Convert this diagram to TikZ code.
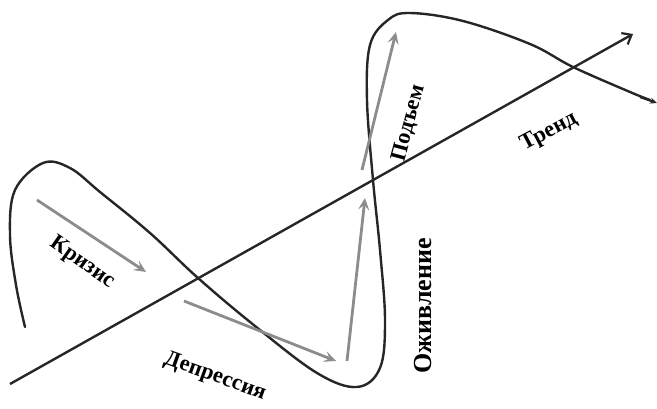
\documentclass[tikz,border=0pt]{standalone}
\usepackage{fontspec}
\setmainfont{Liberation Serif}
\usetikzlibrary{arrows.meta}
\begin{document}
\begin{tikzpicture}[x=1pt,y=-1pt,
  wave/.style={line width=2.4pt,color=black!85,line cap=round},
  trendline/.style={line width=2.4pt,color=black!85,-{Straight Barb[length=8pt,width=13pt,line width=2.2pt]}},
  phase/.style={line width=2.8pt,color=black!45,-{Stealth[length=12pt,width=11pt,inset=5pt]}},
  lab/.style={font=\bfseries\fontsize{22.5}{24}\selectfont,inner sep=0pt},
  biglab/.style={font=\bfseries\fontsize{26}{28}\selectfont,inner sep=0pt}]
\useasboundingbox (0,0) rectangle (657,409);
% trend
\coordinate (t0) at (10,384);
\coordinate (t1) at (633,34);
\draw[trendline] (t0) -- (t1);
% wave
\draw[wave] plot[smooth,tension=0.6] coordinates {
 (25,327) (16,285) (10,235) (15,190) (43,163) (70,168) (100,192) (150,233)
 (198,278) (255,326) (317,373) (357,387) (380,368) (385,320) (380,250)
 (373,180) (367,100) (370,45) (388,20) (410,13) (463,21) (530,44) (573,67)
 (630,92) (650,100)};
\draw[line width=2.2pt,black!85,-{Stealth[length=7pt,width=6pt]}] (640,97) -- (657,103);
% phase arrows
\coordinate (k0) at (37,200); \coordinate (k1) at (146,272);
\coordinate (d0) at (184,301); \coordinate (d1) at (336,361);
\coordinate (o0) at (347,361); \coordinate (o1) at (365,198);
\coordinate (p0) at (362,170); \coordinate (p1) at (396,32);
\draw[phase] (k0) -- (k1);
\draw[phase] (d0) -- (d1);
\draw[phase] (o0) -- (o1);
\draw[phase] (p0) -- (p1);
% labels
\node[lab,rotate=-35] (kr) at (82,263) {Кризис};
\node[lab,rotate=-20] (de) at (215,377) {Депрессия};
\node[biglab,rotate=90] (oz) at (423,306) {Оживление};
\node[lab,rotate=75] (po) at (409,123) {Подъем};
\node[lab,rotate=28] (tr) at (549,132) {Тренд};
\end{tikzpicture}
\end{document}
